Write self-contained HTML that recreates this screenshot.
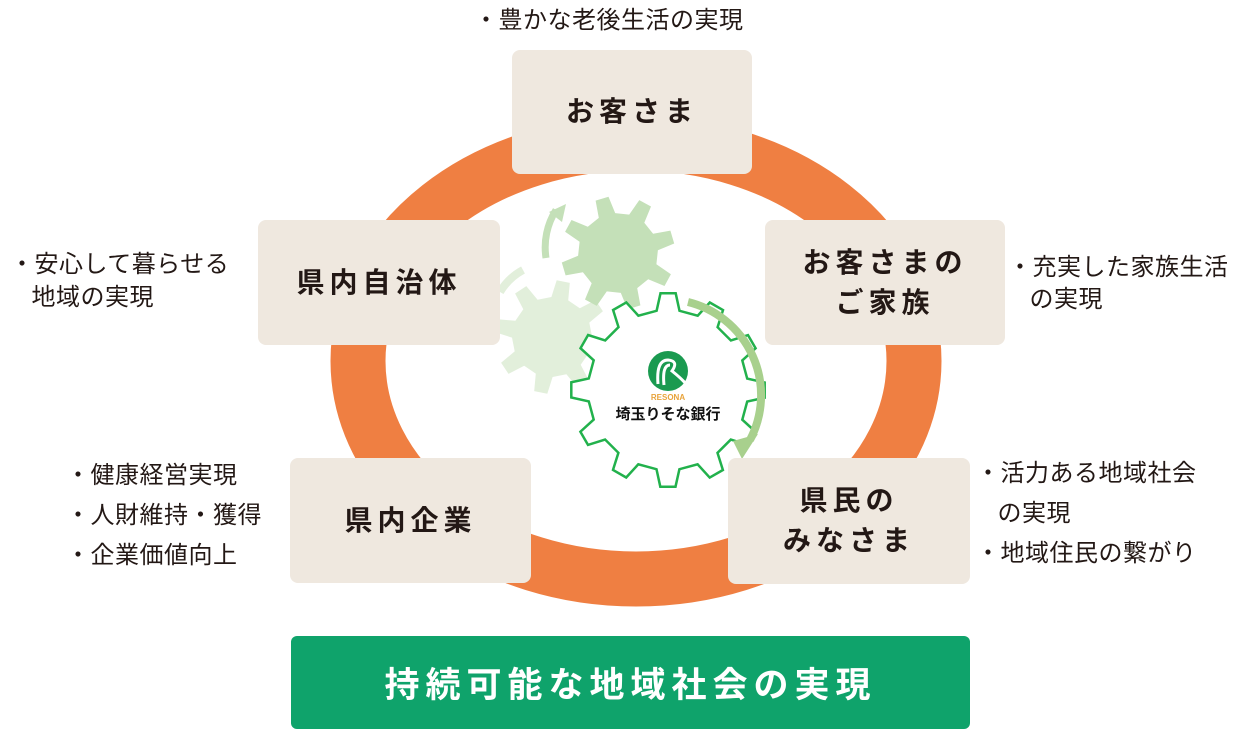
<!DOCTYPE html>
<html><head><meta charset="utf-8"><style>
body{margin:0;width:1254px;height:742px;background:#fff;position:relative;overflow:hidden;font-family:"Liberation Sans","Noto Sans CJK JP",sans-serif;color:#231815}
.b{position:absolute;background:#efe8df;border-radius:8px;display:flex;align-items:center;justify-content:center;text-align:center;font-weight:bold;font-size:28px;letter-spacing:5px;line-height:40px}
.t{position:absolute;font-size:24px;line-height:40px;white-space:nowrap;letter-spacing:0.5px}
</style></head><body>
<svg width="1254" height="742" style="position:absolute;left:0;top:0">
<ellipse cx="636" cy="361" rx="278" ry="218" fill="none" stroke="#ef7f42" stroke-width="55"/>
<g id="g"></g>
</svg>
<div class="b" style="left:512px;top:50px;width:240px;height:124px">お客さま</div>
<div class="b" style="left:258px;top:220px;width:242px;height:125px">県内自治体</div>
<div class="b" style="left:765px;top:220px;width:240px;height:125px">お客さまの<br>ご家族</div>
<div class="b" style="left:290px;top:458px;width:241px;height:125px">県内企業</div>
<div class="b" style="left:728px;top:458px;width:242px;height:126px">県民の<br>みなさま</div>
<div style="position:absolute;left:291px;top:636px;width:679px;height:93px;background:#0fa36b;border-radius:6px;color:#fff;font-weight:bold;font-size:35px;letter-spacing:6px;display:flex;align-items:center;justify-content:center">持続可能な地域社会の実現</div>
<div class="t" style="left:474px;top:1px">・豊かな老後生活の実現</div>
<div class="t" style="left:10px;top:248px;line-height:33px">・安心して暮らせる<br>&nbsp;&nbsp;&nbsp;地域の実現</div>
<div class="t" style="left:1008px;top:252px;line-height:32px">・充実した家族生活<br>&nbsp;&nbsp;&nbsp;の実現</div>
<div class="t" style="left:66px;top:456px">・健康経営実現<br>・人財維持・獲得<br>・企業価値向上</div>
<div class="t" style="left:976px;top:454px">・活力ある地域社会<br>&nbsp;&nbsp;&nbsp;の実現<br>・地域住民の繋がり</div>
<div style="position:absolute;left:618px;top:393px;width:100px;text-align:center;font-size:8px;color:#e8a33a;font-weight:bold">RESONA</div>
<div style="position:absolute;left:603px;top:403px;width:130px;text-align:center;font-size:15px;font-weight:bold;color:#111">埼玉りそな銀行</div>
<script>
function gear(cx,cy,r1,r2,n,rot){let p=[];for(let i=0;i<n;i++){let a=rot+i*2*Math.PI/n,w=Math.PI/n;let s=[[a-w*0.55,r1],[a-w*0.3,r2],[a+w*0.3,r2],[a+w*0.55,r1]];s.forEach(([t,r])=>p.push((cx+r*Math.cos(t)).toFixed(1)+","+(cy+r*Math.sin(t)).toFixed(1)));}return p.join(" ");}
let g=document.getElementById("g");
g.innerHTML=
'<polygon points="'+gear(552,337,40,57,8,0.2)+'" fill="#e2efdb"/>'+
'<polygon points="'+gear(618,253,40,57,8,0.5)+'" fill="#c4e0b8"/>'+
'<path d="M 500 292 A 60 60 0 0 1 523 270" fill="none" stroke="#e2efdb" stroke-width="8"/>'+
'<path d="M 546 258 A 70 70 0 0 1 556 210" fill="none" stroke="#c4e0b8" stroke-width="7"/>'+
'<polygon points="549,212 566,204 562,222" fill="#c4e0b8"/>'+
'<polygon points="'+gear(668,390,80,97,12,-1.57)+'" fill="#fff" stroke="#22b14c" stroke-width="2.5"/>'+
'<path d="M 688 302 A 96 96 0 0 1 750 440" fill="none" stroke="#a8d08d" stroke-width="8"/>'+
'<polygon points="733,441 758,434 742,459" fill="#a8d08d"/>'+
'<circle cx="668" cy="371" r="20" fill="#1a9a50"/>'+
'<path d="M658 384 Q656 360 668 360 Q679 361 672 371 Q682 379 687 385 M664 385 Q662 365 670 365" fill="none" stroke="#fff" stroke-width="3"/>';
</script>
</body></html>
